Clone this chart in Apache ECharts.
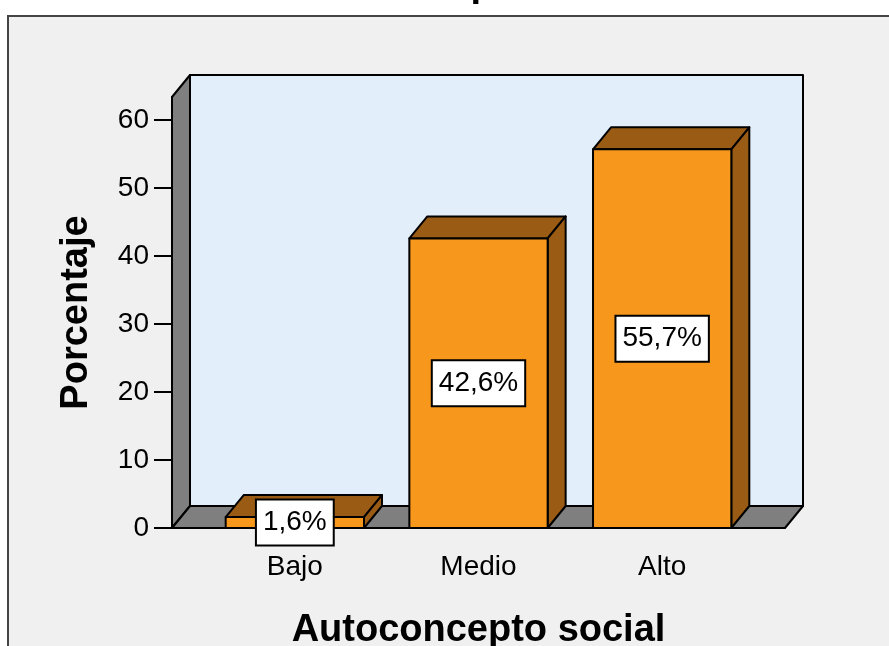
<!DOCTYPE html>
<html>
<head>
<meta charset="utf-8">
<script src="https://cdn.jsdelivr.net/npm/echarts@6/dist/echarts.min.js"></script>
<style>
  html, body { margin: 0; background: #fff; }
  #main { width: 889px; height: 646px; }
</style>
</head>
<body>
<div id="main"></div>
<script>
const categories = ['Bajo', 'Medio', 'Alto'];
const porcentajes = [1.6, 42.6, 55.7];
const yTicks = [0, 10, 20, 30, 40, 50, 60];
const yMax = 63.4;

const FONT = '"Liberation Sans", Arial, sans-serif';
const ORANGE = '#F7981D';
const BROWN = '#9A5C14';
const WALL = '#E2EEFA';
const GREY = '#7F7F7F';
// pseudo 3D depth offset, and extra floor width left/right of the bands
const DX = 18, DY = -22, PAD = 31;

const edge = { stroke: '#000', lineWidth: 2, lineJoin: 'round' };

function fmt(v) {
  return v.toFixed(1).replace('.', ',') + '%';
}

// walls and floor behind the bars
function renderFrame(params, api) {
  const cs = params.coordSys;
  const L = cs.x - PAD, R = cs.x + cs.width + PAD;
  const T = cs.y, B = cs.y + cs.height;
  return {
    type: 'group',
    children: [
      { type: 'rect', shape: { x: L + DX, y: T + DY, width: R - L, height: B - T }, style: Object.assign({ fill: WALL }, edge) },
      { type: 'polygon', shape: { points: [[L, T], [L + DX, T + DY], [L + DX, B + DY], [L, B]] }, style: Object.assign({ fill: GREY }, edge) },
      { type: 'polygon', shape: { points: [[L, B], [L + DX, B + DY], [R + DX, B + DY], [R, B]] }, style: Object.assign({ fill: GREY }, edge) }
    ]
  };
}

function renderBar(params, api) {
  const i = api.value(0), v = api.value(1);
  const top = api.coord([i, v]);
  const base = api.coord([i, 0]);
  const w = api.size([1, 0])[0] * 0.753;
  const x0 = top[0] - w / 2, x1 = top[0] + w / 2;
  const yt = top[1], yb = base[1];
  return {
    type: 'group',
    children: [
      { type: 'polygon', shape: { points: [[x0, yt], [x0 + DX, yt + DY], [x1 + DX, yt + DY], [x1, yt]] }, style: Object.assign({ fill: BROWN }, edge) },
      { type: 'polygon', shape: { points: [[x1, yt], [x1 + DX, yt + DY], [x1 + DX, yb + DY], [x1, yb]] }, style: Object.assign({ fill: BROWN }, edge) },
      { type: 'rect', shape: { x: x0, y: yt, width: w, height: yb - yt }, style: Object.assign({ fill: ORANGE }, edge) },
      {
        type: 'text', x: top[0], y: (yt + yb) / 2, z2: 10,
        style: {
          text: fmt(v), fill: '#000', fontSize: 28, fontFamily: FONT,
          align: 'center', verticalAlign: 'middle',
          backgroundColor: '#fff', borderColor: '#000', borderWidth: 2, padding: [8, 6]
        }
      }
    ]
  };
}

const chart = echarts.init(document.getElementById('main'));
chart.setOption({
  backgroundColor: '#fff',
  animation: false,
  graphic: [
    { type: 'rect', z: -10, shape: { x: 8, y: 16, width: 1000, height: 1000 }, style: { fill: '#F0F0F0', stroke: '#444', lineWidth: 2 } },
    { type: 'text', z: -5, x: 461, y: 5, style: { text: 'Autoconcepto social', fill: '#000', fontSize: 38, fontWeight: 'bold', fontFamily: FONT, align: 'center', verticalAlign: 'bottom' } }
  ],
  grid: { left: 172 + PAD, right: 104 + PAD, top: 97, bottom: 118, outerBoundsMode: 'none', containLabel: false },
  xAxis: {
    type: 'category',
    data: categories,
    axisLine: { show: false },
    axisTick: { alignWithLabel: true, length: 20, lineStyle: { color: '#000', width: 2 } },
    axisLabel: { margin: 25, fontSize: 28, color: '#000', fontFamily: FONT },
    name: 'Autoconcepto social',
    nameLocation: 'middle',
    nameGap: 84,
    nameTextStyle: { fontSize: 38, fontWeight: 'bold', color: '#000', fontFamily: FONT }
  },
  yAxis: {
    type: 'value',
    min: 0,
    max: yMax,
    offset: PAD,
    axisLine: { show: true, lineStyle: { color: '#000', width: 2 } },
    axisTick: { show: true, length: 18, customValues: yTicks, lineStyle: { color: '#000', width: 2 } },
    axisLabel: { customValues: yTicks, margin: 23, fontSize: 28, color: '#000', fontFamily: FONT },
    splitLine: { show: false },
    name: 'Porcentaje',
    nameLocation: 'middle',
    nameGap: 76,
    nameTextStyle: { fontSize: 38, fontWeight: 'bold', color: '#000', fontFamily: FONT }
  },
  series: [
    { type: 'custom', z: 1, silent: true, renderItem: renderFrame, data: [[0, 0]] },
    { type: 'custom', z: 3, renderItem: renderBar, data: porcentajes.map((v, i) => [i, v]) }
  ]
});
</script>
</body>
</html>
